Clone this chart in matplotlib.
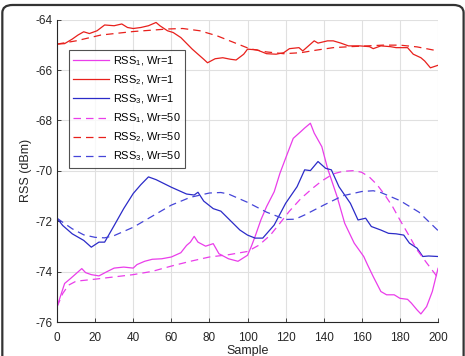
import matplotlib
matplotlib.use('Agg')
import matplotlib.pyplot as plt
from matplotlib.patches import FancyBboxPatch

plt.rcParams['font.family'] = ['Liberation Sans', 'DejaVu Sans']
plt.rcParams['mathtext.default'] = 'regular'
plt.rcParams['axes.unicode_minus'] = False

# values (sample index, dBm)
rss1_w1_x = [0, 2, 4, 7, 10, 13, 15, 18, 22, 26, 30, 35, 40, 42, 46, 50, 55, 60, 65, 68, 70, 72,
             74, 78, 82, 85, 90, 95, 100, 102, 104, 107, 110, 114, 117, 121, 124, 128, 130, 133,
             135, 139, 142, 147, 151, 156, 161, 163, 166, 170, 173, 177, 180, 184, 186, 189,
             191, 194, 197, 200]
rss1_w1_y = [-75.4, -74.93, -74.47, -74.28, -74.08, -73.88, -74.04, -74.12, -74.17, -74.01,
             -73.86, -73.82, -73.86, -73.72, -73.59, -73.51, -73.49, -73.42, -73.25, -72.96,
             -72.83, -72.6, -72.83, -72.99, -72.89, -73.29, -73.49, -73.59, -73.35, -73.0,
             -72.6, -71.95, -71.42, -70.83, -70.1, -69.3, -68.71, -68.44, -68.3, -68.11, -68.5,
             -69.04, -69.9, -71.02, -72.08, -72.87, -73.4, -73.73, -74.2, -74.79, -74.92,
             -74.92, -75.06, -75.1, -75.25, -75.52, -75.68, -75.39, -74.79, -73.87]

rss2_w1_x = [0, 4, 8, 11, 14, 17, 21, 25, 30, 34, 37, 40, 44, 48, 52, 54, 58, 61, 65, 71, 77,
             79, 83, 87, 91, 94, 98, 100, 105, 110, 115, 119, 122, 127, 129, 132, 135, 137,
             142, 145, 149, 153, 159, 164, 166, 170, 175, 178, 184, 187, 191, 193, 196, 200]
rss2_w1_y = [-64.97, -64.95, -64.77, -64.61, -64.48, -64.55, -64.44, -64.21, -64.24, -64.17,
             -64.31, -64.35, -64.31, -64.24, -64.11, -64.24, -64.44, -64.51, -64.71, -65.17,
             -65.57, -65.71, -65.55, -65.51, -65.57, -65.6, -65.37, -65.17, -65.2, -65.35,
             -65.37, -65.31, -65.15, -65.11, -65.24, -65.04, -64.84, -64.93, -64.84, -64.84,
             -64.93, -65.04, -65.04, -65.07, -65.15, -65.04, -65.07, -65.11, -65.11, -65.37,
             -65.51, -65.64, -65.91, -65.81]

rss3_w1_x = [0, 3, 8, 14, 18, 22, 25, 30, 35, 40, 44, 48, 52, 60, 68, 72, 74, 77, 82, 86, 90,
             96, 100, 104, 108, 114, 120, 126, 130, 133, 137, 141, 144, 148, 154, 158, 162,
             165, 170, 174, 178, 182, 185, 189, 192, 195, 200]
rss3_w1_y = [-71.88, -72.17, -72.5, -72.76, -73.03, -72.83, -72.83, -72.17, -71.5, -70.9,
             -70.55, -70.24, -70.35, -70.65, -70.92, -70.96, -70.85, -71.2, -71.5, -71.6,
             -71.9, -72.35, -72.55, -72.67, -72.67, -72.15, -71.29, -70.63, -69.96, -69.99,
             -69.63, -69.9, -69.96, -70.63, -71.29, -71.95, -71.88, -72.21, -72.35, -72.48,
             -72.5, -72.55, -72.87, -73.07, -73.4, -73.38, -73.4]

rss1_w50_x = [0, 3, 6, 10, 20, 30, 40, 50, 60, 70, 80, 90, 100, 106, 112, 117, 122, 128, 134,
              139, 145, 150, 156, 160, 164, 168, 172, 176, 180, 185, 189, 194, 200]
rss1_w50_y = [-75.4, -74.87, -74.54, -74.38, -74.3, -74.21, -74.12, -73.99, -73.78, -73.59,
              -73.42, -73.33, -73.2, -72.95, -72.55, -72.08, -71.6, -71.1, -70.7, -70.4,
              -70.12, -70.02, -69.99, -70.06, -70.25, -70.55, -70.95, -71.4, -71.95, -72.6,
              -73.14, -73.65, -74.25]

rss2_w50_x = [0, 10, 23, 40, 58, 66, 75, 84, 93, 101, 110, 119, 128, 136, 145, 154, 163, 171,
              180, 189, 200]
rss2_w50_y = [-64.97, -64.84, -64.61, -64.47, -64.37, -64.35, -64.44, -64.64, -64.91, -65.15,
              -65.28, -65.35, -65.31, -65.21, -65.11, -65.07, -65.04, -65.01, -65.01, -65.08,
              -65.24]

rss3_w50_x = [0, 3, 8, 14, 20, 25, 30, 40, 50, 60, 70, 80, 86, 90, 100, 110, 120, 125, 130,
              140, 150, 160, 166, 170, 180, 190, 200]
rss3_w50_y = [-71.88, -72.04, -72.3, -72.54, -72.64, -72.66, -72.57, -72.24, -71.8, -71.36,
              -71.05, -70.88, -70.86, -70.92, -71.25, -71.64, -71.93, -71.92, -71.75, -71.36,
              -70.99, -70.82, -70.79, -70.86, -71.18, -71.64, -72.37]

labels = ['RSS$_1$, Wr=1', 'RSS$_2$, Wr=1', 'RSS$_3$, Wr=1',
          'RSS$_1$, Wr=50', 'RSS$_2$, Wr=50', 'RSS$_3$, Wr=50']

MAGENTA = '#ea3dea'
RED = '#e8201c'
BLUE = '#2b2bc8'
BLUE_D = '#4545d8'
INK = '#262626'

fig = plt.figure(figsize=(4.65, 3.56), dpi=100)
ax = fig.add_axes([0.1226, 0.0955, 0.8194, 0.8492])

lw = 0.9
dash = (6, 4)
ax.plot(rss1_w1_x, rss1_w1_y, color=MAGENTA, lw=lw, label=labels[0])
ax.plot(rss2_w1_x, rss2_w1_y, color=RED, lw=lw, label=labels[1])
ax.plot(rss3_w1_x, rss3_w1_y, color=BLUE, lw=lw, label=labels[2])
ax.plot(rss1_w50_x, rss1_w50_y, color=MAGENTA, lw=lw, dashes=dash, label=labels[3])
ax.plot(rss2_w50_x, rss2_w50_y, color=RED, lw=lw, dashes=dash, label=labels[4])
ax.plot(rss3_w50_x, rss3_w50_y, color=BLUE_D, lw=lw, dashes=dash, label=labels[5])

ax.set_xlim(0, 200)
ax.set_ylim(-76, -64)
ax.set_xticks(range(0, 201, 20))
ax.set_yticks(range(-76, -63, 2))
ax.grid(True, color='#e0e0e0', lw=0.8)
ax.set_axisbelow(True)
for side in ['top', 'right']:
    ax.spines[side].set_visible(False)
for side in ['left', 'bottom']:
    ax.spines[side].set_color(INK)
    ax.spines[side].set_linewidth(0.8)
ax.tick_params(direction='in', length=3, width=0.6, color=INK,
               labelsize=8.5, labelcolor=INK)
ax.tick_params(axis='x', pad=7)
ax.tick_params(axis='y', pad=3)
ax.set_xlabel('Sample', fontsize=9, color=INK, labelpad=1)
ax.set_ylabel('RSS (dBm)', fontsize=9, color=INK, labelpad=3)

leg = ax.legend(loc='upper left', bbox_to_anchor=(0.031, 0.9), fontsize=7.9,
                frameon=True, fancybox=False, handlelength=3.3, borderpad=0.4,
                labelspacing=0.5, handletextpad=0.35, borderaxespad=0)
leg.get_frame().set_edgecolor(INK)
leg.get_frame().set_linewidth(0.8)

frame = FancyBboxPatch((0.005, -0.06), 0.992, 1.046,
                       boxstyle='round,pad=0,rounding_size=0.022',
                       transform=fig.transFigure, fill=False,
                       edgecolor='#333333', lw=1.6)
fig.patches.append(frame)

fig.savefig('out.png', dpi=100)
